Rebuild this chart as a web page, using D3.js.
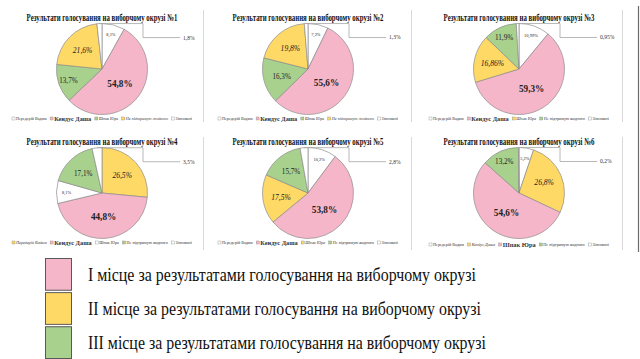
<!DOCTYPE html>
<html><head><meta charset="utf-8">
<script src="https://cdn.jsdelivr.net/npm/d3@7"></script>
<style>body{margin:0;background:#fff;} svg{display:block;}</style>
</head><body><svg id="c" width="640" height="359"></svg>
<script>
// ---------- data ----------
const candidates = ["Передерій Вадим", "Кендус Даша", "Шпак Юра", "Не підтримую жодного", "Зіпсовані"];
const titles = [
  "Результати голосування на виборчому окрузі №1",
  "Результати голосування на виборчому окрузі №2",
  "Результати голосування на виборчому окрузі №3",
  "Результати голосування на виборчому окрузі №4",
  "Результати голосування на виборчому окрузі №5",
  "Результати голосування на виборчому окрузі №6"
];
const values1 = [8.1, 54.8, 13.7, 21.6, 1.8];
const values2 = [7.2, 55.6, 16.3, 19.8, 1.3];
const values3 = [10.99, 59.3, 16.86, 11.9, 0.95];
const values4 = [26.5, 44.8, 8.1, 17.1, 3.5];
const values5 = [10.2, 53.8, 17.5, 15.7, 2.8];
const values6 = [5.2, 26.8, 54.6, 13.2, 0.2];
// place of each candidate on the district (1,2,3; 0 = no place)
const ranks1 = [0, 1, 3, 2, 0];
const ranks2 = [0, 1, 3, 2, 0];
const ranks3 = [0, 1, 2, 3, 0];
const ranks4 = [2, 1, 0, 3, 0];
const ranks5 = [0, 1, 2, 3, 0];
const ranks6 = [0, 2, 1, 3, 0];
const legendLabels = [
  "І місце за результатами голосування на виборчому окрузі",
  "ІІ місце за результатами голосування на виборчому окрузі",
  "ІІІ місце за результатами голосування на виборчому окрузі"
];

const allValues = [values1, values2, values3, values4, values5, values6];
const allRanks = [ranks1, ranks2, ranks3, ranks4, ranks5, ranks6];

// ---------- style / layout ----------
const rankColor = d3.scaleOrdinal().domain([0, 1, 2, 3]).range(["#ffffff", "#f6b6c9", "#ffd966", "#a9d18e"]);
const serif = "'Liberation Serif','Times New Roman',serif";
const cxs = [102, 308, 519];
const cys = [69, 193];
const R = 45.5;

const svg = d3.select("#c");
svg.append("rect").attr("width", 640).attr("height", 359).attr("fill", "#fff");

// panel separators
const sepX = [203.5, 411.5, 622.5];
[[10, 122], [137, 250]].forEach(([y1, y2]) => {
  sepX.forEach(x => svg.append("line").attr("x1", x).attr("x2", x).attr("y1", y1).attr("y2", y2)
    .attr("stroke", "#d9d9d9").attr("stroke-width", 1));
});
svg.append("line").attr("x1", 638.5).attr("x2", 638.5).attr("y1", 6).attr("y2", 252)
  .attr("stroke", "#6b6b6b").attr("stroke-width", 1.2);

const fmt = v => String(v).replace(".", ",") + "%";
const pie = d3.pie().sort(null).value(d => d.v);
const arc = d3.arc().innerRadius(0).outerRadius(R);

allValues.forEach((vals, i) => {
  const ranks = allRanks[i];
  const cx = cxs[i % 3], cy = cys[Math.floor(i / 3)];
  const g = svg.append("g").attr("transform", `translate(${cx},${cy})`);
  const data = vals.map((v, k) => ({ v, name: candidates[k], rank: ranks[k], last: k === vals.length - 1 }));
  const arcs = pie(data);

  // title (glyphs compressed horizontally, as in the reference)
  const tg = g.append("g").attr("transform", `translate(0,${i < 3 ? -48.5 : -48})`);
  const tt = tg.append("text").attr("x", 0).attr("y", 0)
    .attr("text-anchor", "middle").attr("font-family", serif).attr("font-weight", "bold")
    .attr("font-size", 10.5).attr("fill", "#111")
    .text(titles[i]);
  const tw = tt.node().getComputedTextLength();
  tg.attr("transform", `translate(0,${i < 3 ? -48.5 : -48}) scale(${151 / tw},1)`);

  // slices
  g.selectAll("path").data(arcs).join("path")
    .attr("d", arc)
    .attr("fill", d => rankColor(d.data.rank))
    .attr("stroke", "#8c8c8c").attr("stroke-width", 0.7);

  // inside labels
  arcs.forEach(a => {
    if (a.data.last) return;
    const frac = a.data.v / 100;
    const f = frac > 0.4 ? 0.5 : frac > 0.14 ? 0.6 : 0.78;
    const [x, y] = d3.arc().innerRadius(0).outerRadius(2 * R * f).centroid(a);
    const rk = a.data.rank;
    const size = rk === 1 ? 11 : rk === 2 ? 8.5 : rk === 3 ? 8 : 5;
    g.append("text").attr("x", x).attr("y", y).attr("dy", "0.35em")
      .attr("text-anchor", "middle").attr("font-family", serif)
      .attr("font-size", size)
      .attr("font-weight", rk === 1 ? "bold" : "normal")
      .attr("font-style", rk === 2 ? "italic" : "normal")
      .attr("fill", "#222")
      .attr("textLength", size * 2.3 * (fmt(a.data.v).length / 5))
      .attr("lengthAdjust", "spacingAndGlyphs")
      .text(fmt(a.data.v));
  });

  // leader line for the small last slice
  const lastArc = arcs[arcs.length - 1];
  const mid = (lastArc.startAngle + lastArc.endAngle) / 2;
  const sx = R * Math.sin(mid), sy = -R * Math.cos(mid);
  const pts = [[sx, sy], [41, sy], [41, sy + 14], [78, sy + 14]];
  g.append("path").attr("d", d3.line()(pts)).attr("fill", "none")
    .attr("stroke", "#a6a6a6").attr("stroke-width", 0.8);
  g.append("text").attr("x", 81).attr("y", sy + 14).attr("dy", "0.35em")
    .attr("font-family", serif).attr("font-size", 5.5).attr("fill", "#333")
    .text(fmt(lastArc.data.v));

  // small legend (compressed horizontally to the panel width)
  const lg = g.append("g").attr("transform", `translate(0,${R + 5 + (i === 5 ? 2 : 0)})`);
  const items = data.map(d => {
    const big = d.rank === 1;
    const it = d.rank === 2;
    const t = lg.append("text").attr("y", big ? 1.6 : 0.9)
      .attr("font-family", serif).attr("font-size", big ? 7 : 4.6)
      .attr("font-weight", big ? "bold" : "normal")
      .attr("font-style", it ? "italic" : "normal")
      .attr("fill", "#333").text(d.name);
    return { d, t, w: t.node().getComputedTextLength() };
  });
  const gapM = 4.5, gapI = 4;
  const natural = d3.sum(items, o => o.w + gapM) + gapI * (items.length - 1);
  const target = 180;
  const s = target / natural;
  let xpos = -target / 2;
  items.forEach(o => {
    lg.append("rect").attr("x", xpos).attr("y", -2.5).attr("width", 3).attr("height", 3)
      .attr("fill", rankColor(o.d.rank)).attr("stroke", "#8c8c8c").attr("stroke-width", 0.4);
    xpos += gapM * s;
    o.t.attr("x", xpos).attr("textLength", o.w * s).attr("lengthAdjust", "spacingAndGlyphs");
    xpos += o.w * s + gapI * s;
  });
});

// bottom legend
const lgY = d3.scaleBand().domain([0, 1, 2]).range([258, 359]).paddingInner(0.04);
legendLabels.forEach((t, k) => {
  const y = lgY(k);
  svg.append("rect").attr("x", 45.5).attr("y", y + 0.5).attr("width", 26).attr("height", lgY.bandwidth() - 1)
    .attr("fill", rankColor(k + 1)).attr("stroke", "#595959").attr("stroke-width", 1);
  svg.append("text").attr("x", 88).attr("y", y + lgY.bandwidth() / 2).attr("dy", "0.35em")
    .attr("font-family", serif).attr("font-size", 19).attr("fill", "#111")
    .attr("textLength", 388 + k * 5).attr("lengthAdjust", "spacingAndGlyphs")
    .text(t);
});
</script>
</body></html>
